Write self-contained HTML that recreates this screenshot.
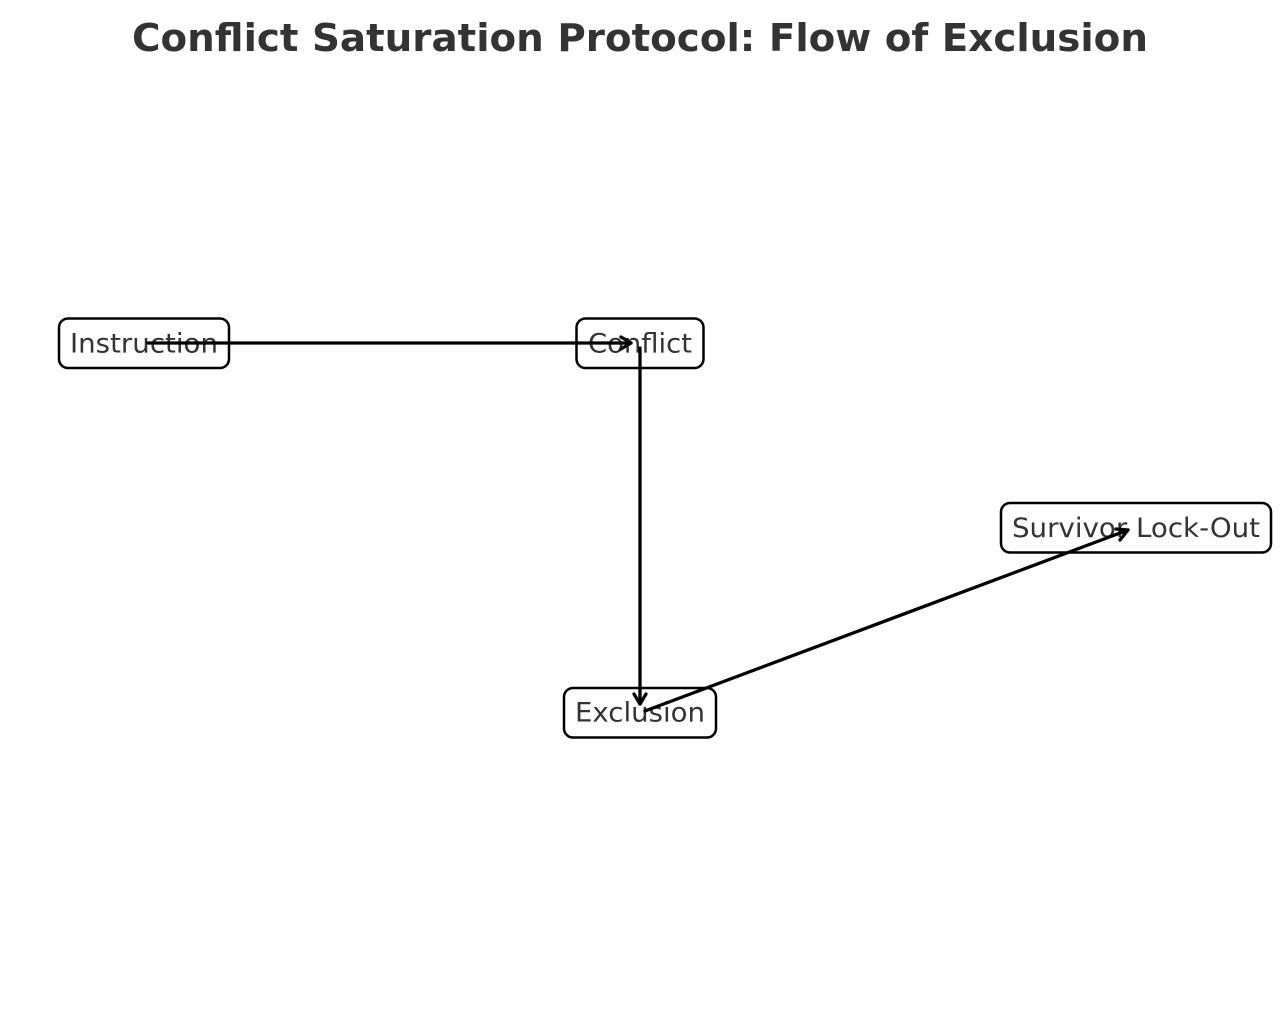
<!DOCTYPE html>
<html><head><meta charset="utf-8"><style>body{margin:0;background:#fff}</style></head>
<body>
<svg width="1280" height="1010" xmlns="http://www.w3.org/2000/svg" font-family="DejaVu Sans, Liberation Sans, sans-serif">
<rect width="1280" height="1010" fill="#fff"/>
<text x="640" y="51" text-anchor="middle" font-size="38" font-weight="bold" fill="#333" textLength="1016" lengthAdjust="spacingAndGlyphs">Conflict Saturation Protocol: Flow of Exclusion</text>
<g fill="#fff" stroke="#000" stroke-width="2.5">
<rect x="59" y="318.5" width="170" height="49.5" rx="9"/>
<rect x="576.5" y="318.5" width="127" height="49.5" rx="9"/>
<rect x="1001" y="503" width="270" height="49.5" rx="9"/>
<rect x="564" y="688" width="152" height="49.5" rx="9"/>
</g>
<g font-size="27" fill="#333" text-anchor="middle">
<text x="144" y="352.5" textLength="148" lengthAdjust="spacingAndGlyphs">Instruction</text>
<text x="640" y="352.5" textLength="104" lengthAdjust="spacingAndGlyphs">Conflict</text>
<text x="1136" y="537" textLength="248" lengthAdjust="spacingAndGlyphs">Survivor Lock-Out</text>
<text x="640" y="721.5" textLength="130" lengthAdjust="spacingAndGlyphs">Exclusion</text>
</g>
<g stroke="#000" stroke-width="3.3" fill="none" stroke-linecap="round" stroke-linejoin="round">
<line x1="148" y1="343" x2="631" y2="343"/>
<polyline points="621,337 631,343 621,349"/>
<line x1="640" y1="348" x2="640" y2="704"/>
<polyline points="634,694 640,704 646,694"/>
<line x1="645" y1="711" x2="1128" y2="530"/>
<polyline points="1116,529 1128,530 1120,540"/>
</g>
</svg>
</body></html>
